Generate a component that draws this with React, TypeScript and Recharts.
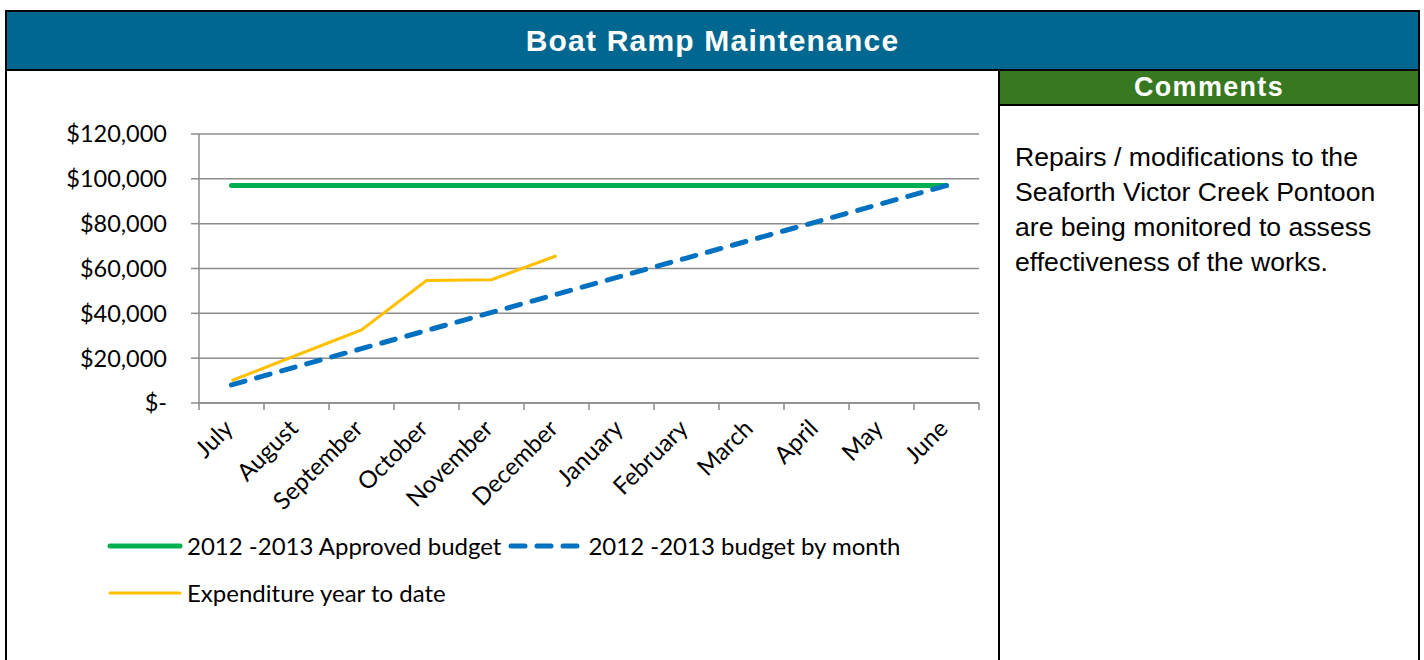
import React from 'react';
import {
  LineChart,
  Line,
  XAxis,
  YAxis,
  CartesianGrid,
  Legend
} from 'recharts';

const months = [
  'July',
  'August',
  'September',
  'October',
  'November',
  'December',
  'January',
  'February',
  'March',
  'April',
  'May',
  'June'
];

const approvedBudget = [
  97000, 97000, 97000, 97000, 97000, 97000,
  97000, 97000, 97000, 97000, 97000, 97000
];

const budgetByMonth = [
  8083, 16167, 24250, 32333, 40417, 48500,
  56583, 64667, 72750, 80833, 88917, 97000
];

const expenditure = [10000, 21300, 32600, 54600, 55000, 65700];

const yTicks = [0, 20000, 40000, 60000, 80000, 100000, 120000];
const boundaryTicks = [0, 1, 2, 3, 4, 5, 6, 7, 8, 9, 10, 11, 12];

const comments = [
  'Repairs / modifications to the',
  'Seaforth Victor Creek Pontoon',
  'are being monitored to assess',
  'effectiveness of the works.'
];

const chartData = months.map((month, i) => ({
  month,
  pos: i + 0.5,
  approved: approvedBudget[i],
  byMonth: budgetByMonth[i],
  expenditure: i < expenditure.length ? expenditure[i] : null
}));

const AXIS_FONT = 'Lato, "Open Sans", sans-serif';
const ARIAL = '"Liberation Sans", Arial, sans-serif';
const GRID = '#8c8c8c';

const formatMoney = (v: number) =>
  v === 0 ? '$-' : '$' + v.toLocaleString('en-US');

// boundary axis only draws tick marks
const EmptyTick = () => <g />;

const MonthTick = (props: any) => {
  const { x, y, payload } = props;
  const ax = x + 3;
  const ay = y + 19;
  return (
    <text
      x={ax}
      y={ay}
      transform={`rotate(-45, ${ax}, ${ay})`}
      textAnchor="end"
      fontFamily={AXIS_FONT}
      fontSize={24}
      fill="#000"
    >
      {payload.value}
    </text>
  );
};

const LegendIcon = ({ color, width, dash }: { color: string; width: number; dash?: string }) => (
  <svg width={78} height={12} style={{ display: 'block' }}>
    <line
      x1={4}
      y1={6}
      x2={74}
      y2={6}
      stroke={color}
      strokeWidth={width}
      strokeDasharray={dash}
      strokeLinecap="round"
    />
  </svg>
);

const renderLegend = (props: any) => {
  const items = props.payload || [];
  return (
    <div
      style={{
        display: 'flex',
        flexWrap: 'wrap',
        width: 820,
        rowGap: 19,
        fontFamily: AXIS_FONT,
        fontSize: 24,
        color: '#000'
      }}
    >
      {items.map((item: any) => (
        <div key={item.value} style={{ display: 'flex', alignItems: 'center', marginRight: 6 }}>
          <LegendIcon
            color={item.color}
            width={item.payload.strokeWidth}
            dash={item.payload.strokeDasharray}
          />
          <span style={{ marginLeft: 3, lineHeight: '28px' }}>{item.value}</span>
        </div>
      ))}
    </div>
  );
};

export default function App() {
  return (
    <div
      style={{
        position: 'absolute',
        left: 0,
        top: 0,
        width: 1424,
        height: 660,
        overflow: 'hidden',
        background: '#fff'
      }}
    >
      <div
        style={{
          position: 'absolute',
          left: 5,
          top: 10,
          width: 1415,
          height: 700,
          border: '2px solid #000',
          boxSizing: 'border-box'
        }}
      />
      <div
        style={{
          position: 'absolute',
          left: 7,
          top: 12,
          width: 1411,
          height: 57,
          background: '#006890',
          borderBottom: '2px solid #000',
          color: '#fff',
          fontFamily: ARIAL,
          fontWeight: 'bold',
          fontSize: 30,
          letterSpacing: 1.2,
          display: 'flex',
          alignItems: 'center',
          justifyContent: 'center'
        }}
      >
        Boat Ramp Maintenance
      </div>
      <div
        style={{
          position: 'absolute',
          left: 998,
          top: 71,
          width: 2,
          height: 600,
          background: '#000'
        }}
      />
      <div
        style={{
          position: 'absolute',
          left: 1000,
          top: 71,
          width: 1418 - 1000,
          height: 33,
          background: '#377821',
          borderBottom: '2px solid #000',
          color: '#fff',
          fontFamily: ARIAL,
          fontWeight: 'bold',
          fontSize: 27,
          letterSpacing: 1.3,
          display: 'flex',
          alignItems: 'center',
          justifyContent: 'center'
        }}
      >
        Comments
      </div>
      <div
        style={{
          position: 'absolute',
          left: 1015,
          top: 140,
          fontFamily: ARIAL,
          fontSize: 26.6,
          lineHeight: '35px',
          color: '#000'
        }}
      >
        {comments.map((line) => (
          <div key={line}>{line}</div>
        ))}
      </div>

      <div style={{ position: 'absolute', left: 0, top: 0 }}>
        <LineChart
          width={1000}
          height={660}
          data={chartData}
          margin={{ top: 134, right: 21, bottom: 0, left: 99 }}
        >
          <CartesianGrid horizontal vertical={false} stroke={GRID} strokeWidth={1.5} />
          <XAxis
            xAxisId="edges"
            type="number"
            dataKey="pos"
            domain={[0, 12]}
            ticks={boundaryTicks}
            tick={<EmptyTick />}
            height={8}
            tickSize={7}
            stroke={GRID}
            strokeWidth={1.5}
            allowDataOverflow
          />
          <XAxis
            xAxisId="labels"
            dataKey="month"
            scale="band"
            interval={0}
            axisLine={false}
            tickLine={false}
            tickSize={0}
            tickMargin={0}
            tick={<MonthTick />}
            height={249}
          />
          <YAxis
            domain={[0, 120000]}
            ticks={yTicks}
            tickFormatter={formatMoney}
            width={100}
            tickSize={8}
            tickMargin={24}
            stroke={GRID}
            strokeWidth={1.5}
            tick={{ fontFamily: AXIS_FONT, fontSize: 23.5, fill: '#000' }}
            interval={0}
          />
          <Legend
            layout="horizontal"
            verticalAlign="middle"
            align="center"
            content={renderLegend}
            wrapperStyle={{ left: 106, top: 532, width: 820 }}
          />
          <Line
            xAxisId="edges"
            dataKey="approved"
            name="2012 -2013 Approved budget"
            stroke="#00b050"
            strokeWidth={5}
            strokeLinecap="round"
            dot={false}
            isAnimationActive={false}
          />
          <Line
            xAxisId="edges"
            dataKey="byMonth"
            name="2012 -2013 budget by month"
            stroke="#0070c0"
            strokeWidth={5}
            strokeDasharray="14 12"
            strokeLinecap="round"
            dot={false}
            isAnimationActive={false}
          />
          <Line
            xAxisId="edges"
            dataKey="expenditure"
            name="Expenditure year to date"
            stroke="#ffc000"
            strokeWidth={3}
            dot={false}
            isAnimationActive={false}
          />
        </LineChart>
      </div>
    </div>
  );
}
